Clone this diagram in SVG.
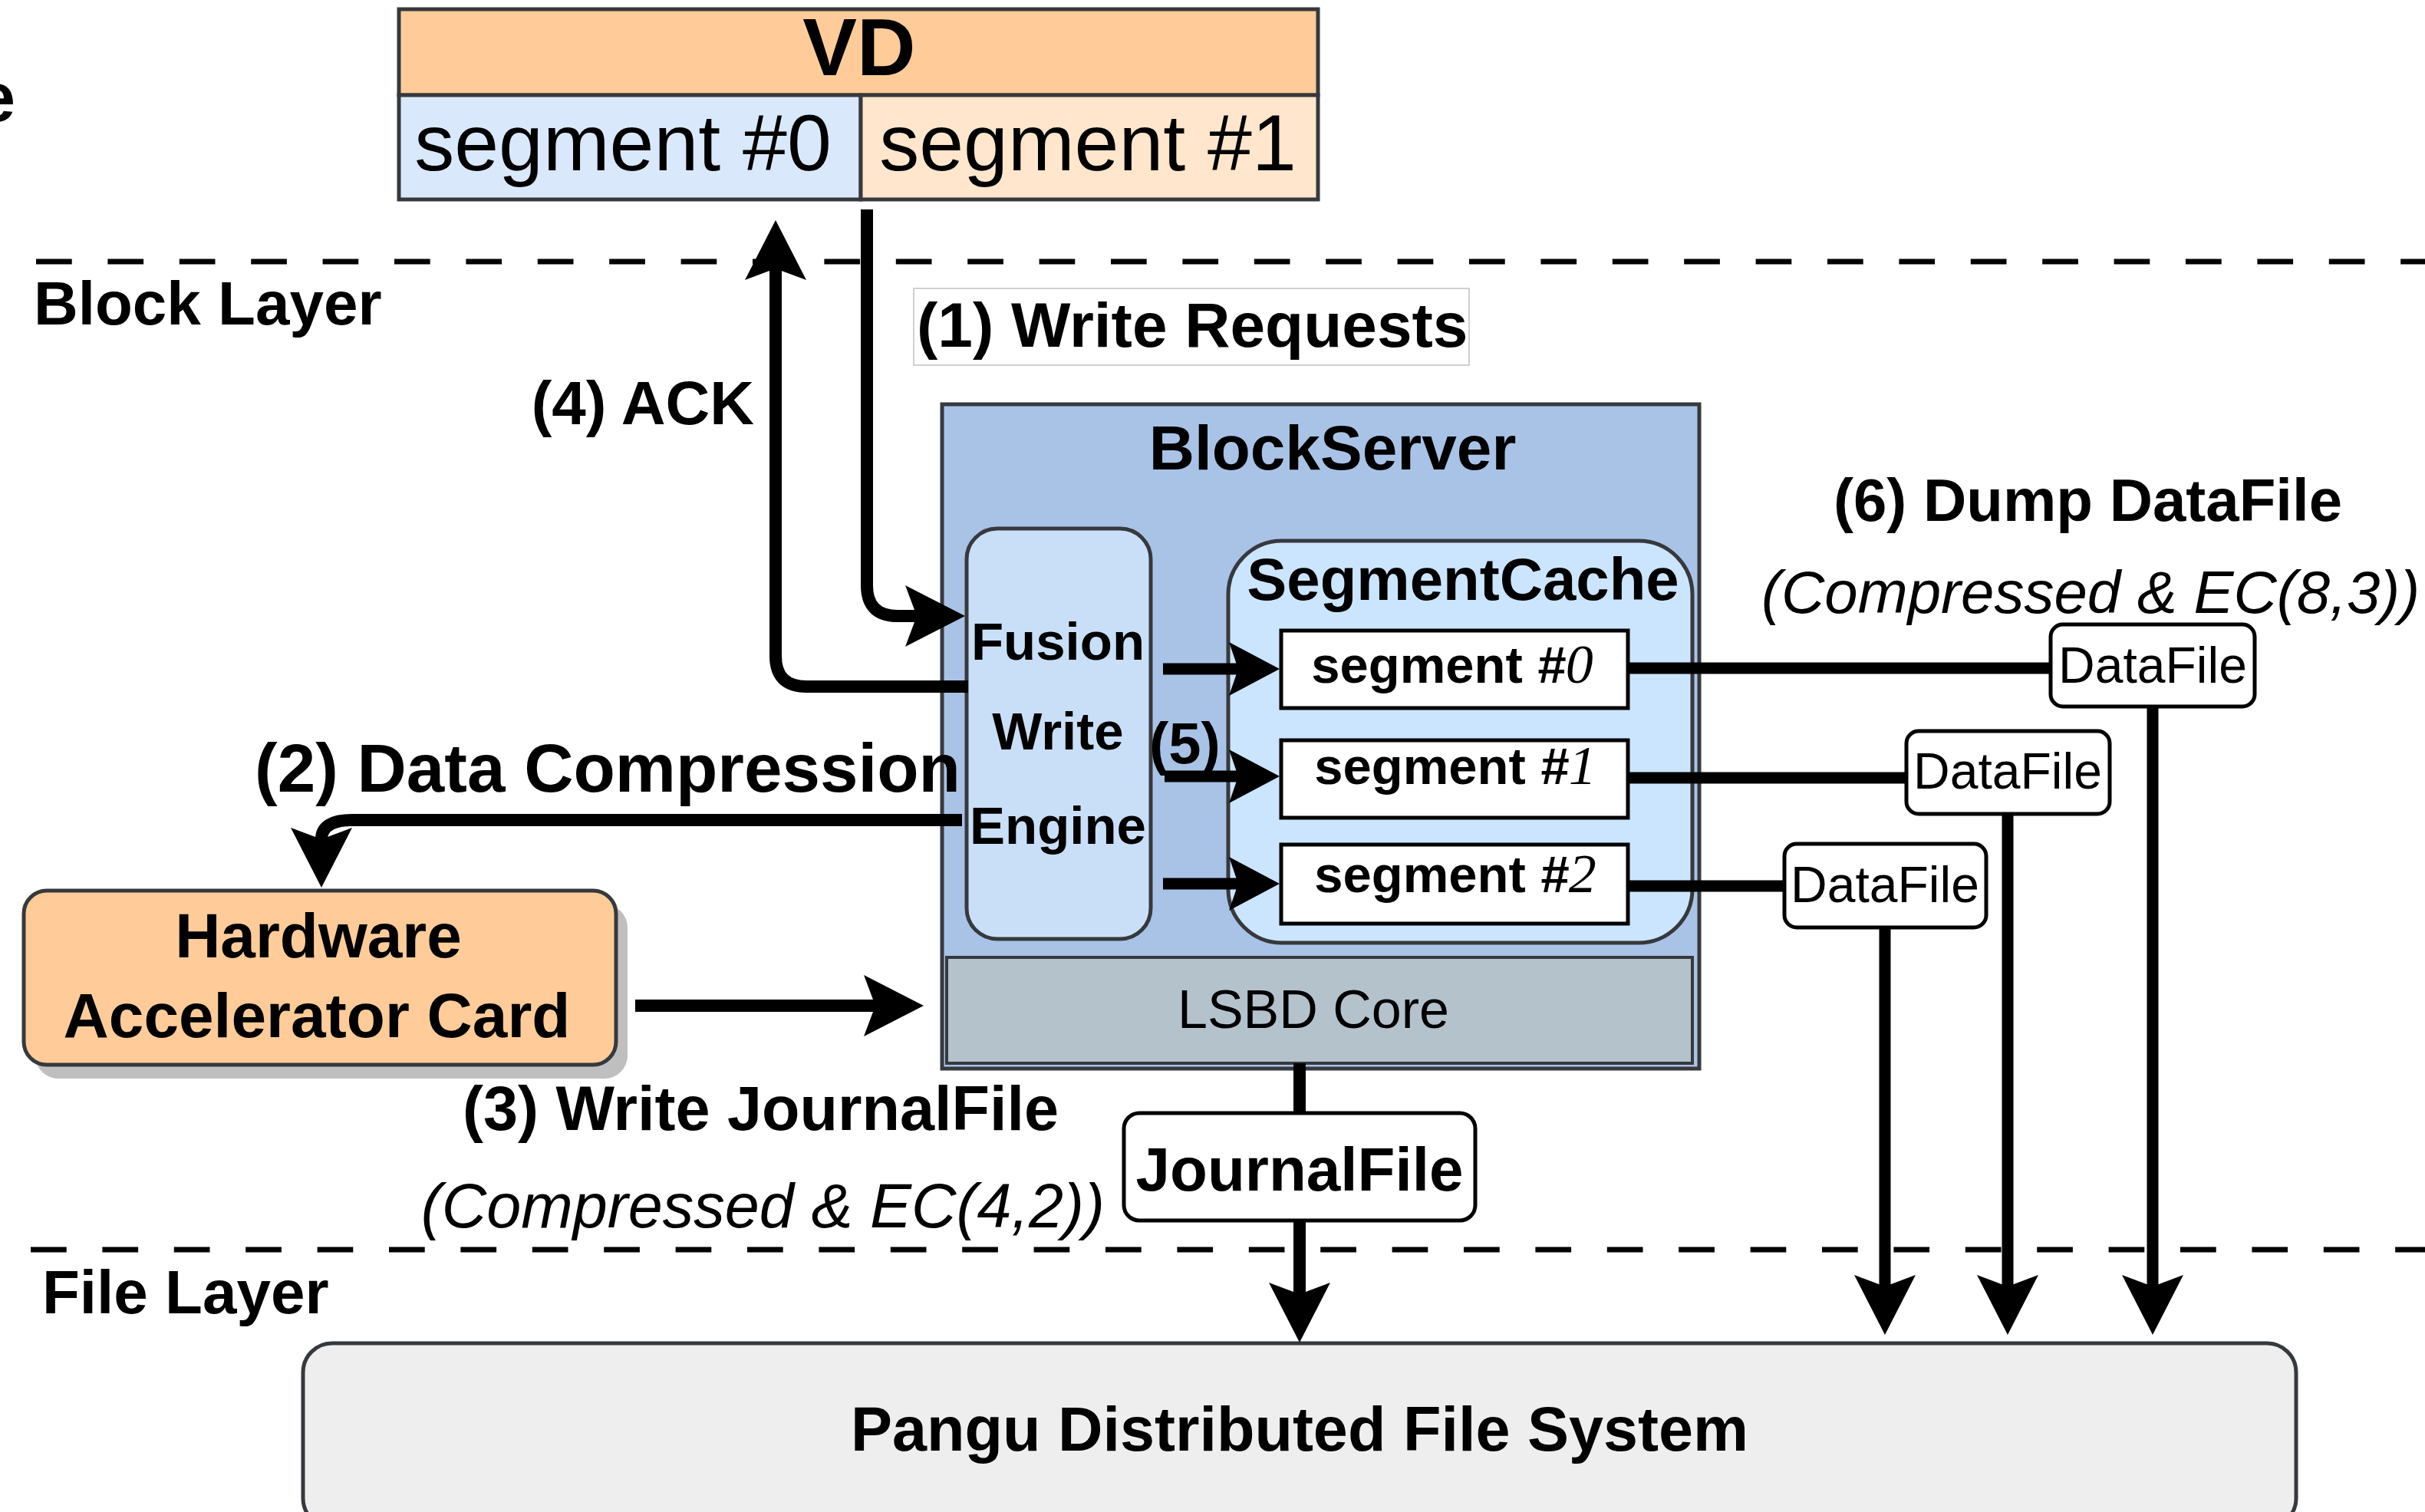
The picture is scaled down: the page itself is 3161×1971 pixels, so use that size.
<svg xmlns="http://www.w3.org/2000/svg" width="3161" height="1971" viewBox="0 0 3161 1971">
  <style>
    text { font-family: "Liberation Sans", Arial, Helvetica, sans-serif; fill: #000; }
    .b { font-weight: bold; }
    .i { font-style: italic; }
    .frame { stroke: #36393d; stroke-width: 5; }
    .box { fill: #fff; stroke: #000; stroke-width: 5; }
    .wire { fill: none; stroke: #000; stroke-width: 16; }
    .thin { fill: none; stroke: #000; stroke-width: 15; }
    .layer { fill: none; stroke: #000; stroke-width: 7; stroke-dasharray: 46.7 46.7; }
    .serif { font-family: "Liberation Serif", "Times New Roman", serif; font-style: italic; }
  </style>
  <defs>
    <!-- notched arrowheads; the path ends at the notch, tip lies ahead -->
    <marker id="head" markerUnits="userSpaceOnUse" viewBox="-16 -41 80 82" refX="0" refY="0" markerWidth="80" markerHeight="82" orient="auto">
      <path d="M63,0 L-15,-40 L0,0 L-15,40 Z" fill="#000"/>
    </marker>
    <marker id="headS" markerUnits="userSpaceOnUse" viewBox="-13 -36 68 72" refX="0" refY="0" markerWidth="68" markerHeight="72" orient="auto">
      <path d="M54,0 L-12,-35 L0,0 L-12,35 Z" fill="#000"/>
    </marker>
  </defs>

  <rect width="3161" height="1971" fill="#fff"/>

  <!-- layer separators and labels -->
  <g id="layers">
    <line class="layer" x1="47" y1="341" x2="3161" y2="341"/>
    <line class="layer" x1="40" y1="1629" x2="3161" y2="1629"/>
    <text class="b" x="20" y="158" font-size="90" text-anchor="end">e</text>
    <text class="b" x="44" y="423" font-size="80">Block Layer</text>
    <text class="b" x="55" y="1712" font-size="80">File Layer</text>
  </g>

  <!-- virtual disk -->
  <g id="vd">
    <rect x="520" y="12" width="1198" height="112" fill="#ffcc99" class="frame"/>
    <rect x="520" y="124" width="602" height="136" fill="#dae8fc" class="frame"/>
    <rect x="1122" y="124" width="596" height="136" fill="#ffe6cc" class="frame"/>
    <text class="b" x="1120" y="98" font-size="106" text-anchor="middle">VD</text>
    <text x="812" y="222" font-size="104" text-anchor="middle">segment #0</text>
    <text x="1418" y="222" font-size="104" text-anchor="middle">segment #1</text>
  </g>

  <!-- block server container -->
  <g id="blockserver">
    <rect x="1228" y="527" width="987" height="866" fill="#a9c3e6" class="frame"/>
    <text class="b" x="1737" y="612" font-size="82" text-anchor="middle">BlockServer</text>
  </g>

  <g id="lsbd-core">
    <rect x="1234" y="1248" width="972" height="138" fill="#b4c2cc" stroke="#36393d" stroke-width="4"/>
    <text x="1712" y="1340" font-size="70" text-anchor="middle" fill="#1a1a1a">LSBD Core</text>
  </g>

  <g id="fusion-engine">
    <rect x="1260" y="689" width="240" height="535" rx="40" fill="#c9dff8" class="frame"/>
    <text class="b" x="1379" y="860" font-size="69" text-anchor="middle">Fusion</text>
    <text class="b" x="1379" y="977" font-size="69" text-anchor="middle">Write</text>
    <text class="b" x="1379" y="1100" font-size="69" text-anchor="middle">Engine</text>
  </g>

  <g id="segment-cache">
    <rect x="1601" y="705" width="605" height="524" rx="70" fill="#cce5ff" class="frame"/>
    <text class="b" x="1907" y="782" font-size="78" text-anchor="middle">SegmentCache</text>
  </g>

  <g id="cache-seg0">
    <rect x="1670" y="822" width="452" height="101" class="box"/>
    <text class="b" x="1893" y="890" font-size="67" text-anchor="middle">segment <tspan class="i">#</tspan><tspan class="serif" font-weight="normal" font-size="72">0</tspan></text>
  </g>
  <g id="cache-seg1">
    <rect x="1670" y="965" width="452" height="101" class="box"/>
    <text class="b" x="1897" y="1022" font-size="67" text-anchor="middle">segment <tspan class="i">#</tspan><tspan class="serif" font-weight="normal" font-size="72">1</tspan></text>
  </g>
  <g id="cache-seg2">
    <rect x="1670" y="1101" width="452" height="103" class="box"/>
    <text class="b" x="1897" y="1163" font-size="67" text-anchor="middle">segment <tspan class="i">#</tspan><tspan class="serif" font-weight="normal" font-size="72">2</tspan></text>
  </g>

  <g id="hw-card">
    <rect x="46" y="1179" width="772" height="227" rx="30" fill="#bfbfbf"/>
    <rect x="31" y="1161" width="772" height="227" rx="30" fill="#ffcc99" class="frame"/>
    <text class="b" x="415" y="1248" font-size="82" text-anchor="middle">Hardware</text>
    <text class="b" x="413" y="1352" font-size="82" text-anchor="middle">Accelerator Card</text>
  </g>

  <g id="journalfile">
    <rect x="1465" y="1451" width="458" height="140" rx="20" class="box"/>
    <text class="b" x="1694" y="1552" font-size="80" text-anchor="middle">JournalFile</text>
  </g>

  <g id="datafile0">
    <rect x="2673" y="814" width="266" height="107" rx="16" class="box"/>
    <text x="2806" y="890" font-size="66" text-anchor="middle">DataFile</text>
  </g>
  <g id="datafile1">
    <rect x="2485" y="953" width="265" height="108" rx="16" class="box"/>
    <text x="2617" y="1028" font-size="66" text-anchor="middle">DataFile</text>
  </g>
  <g id="datafile2">
    <rect x="2326" y="1100" width="263" height="109" rx="16" class="box"/>
    <text x="2457" y="1176" font-size="66" text-anchor="middle">DataFile</text>
  </g>

  <g id="pangu">
    <rect x="395" y="1751" width="2598" height="240" rx="38" fill="#eeeeee" class="frame"/>
    <text class="b" x="1694" y="1891" font-size="81" text-anchor="middle">Pangu Distributed File System</text>
  </g>

  <!-- connectors -->
  <g id="connectors">
    <!-- (1) write requests into the engine -->
    <path class="wire" d="M1130,273 V763 Q1130,803 1170,803 H1195" marker-end="url(#head)"/>
    <!-- (4) ack back to the VD -->
    <path class="wire" d="M1262,895 H1051 Q1011,895 1011,855 V350" marker-end="url(#head)"/>
    <!-- (2) compression offload -->
    <path class="wire" d="M1254,1069 H459 Q419,1069 419,1094" marker-end="url(#head)"/>
    <!-- (3) card result into LSBD core -->
    <path class="wire" d="M828,1311 H1141" marker-end="url(#head)"/>
    <!-- (5) engine to segment cache -->
    <path class="thin" d="M1516,872 H1614" marker-end="url(#headS)"/>
    <path class="thin" d="M1518,1012 H1614" marker-end="url(#headS)"/>
    <path class="thin" d="M1516,1152 H1614" marker-end="url(#headS)"/>
    <!-- journal path -->
    <path class="wire" d="M1694,1386 V1451"/>
    <path class="wire" d="M1694,1591 V1687" marker-end="url(#head)"/>
    <!-- (6) segments dumped to data files -->
    <path class="thin" d="M2122,871 H2673"/>
    <path class="thin" d="M2122,1014 H2485"/>
    <path class="thin" d="M2122,1155 H2326"/>
    <path class="thin" d="M2806,921 V1677" marker-end="url(#head)"/>
    <path class="thin" d="M2617,1061 V1677" marker-end="url(#head)"/>
    <path class="thin" d="M2457,1209 V1677" marker-end="url(#head)"/>
  </g>

  <!-- step labels -->
  <g id="labels">
    <rect x="1191" y="376" width="724" height="100" fill="#fff" stroke="#d0d0d0" stroke-width="2"/>
    <text class="b" x="1195" y="452" font-size="82">(1) Write Requests</text>
    <text class="b" x="983" y="553" font-size="80" text-anchor="end">(4) ACK</text>
    <text class="b" x="332" y="1032" font-size="89">(2) Data Compression</text>
    <text class="b" x="603" y="1473" font-size="81">(3) Write JournalFile</text>
    <text class="i" x="1440" y="1600" font-size="81" text-anchor="end">(Compressed &amp; EC(4,2))</text>
    <text class="b" x="1498" y="995" font-size="76">(5)</text>
    <text class="b" x="2390" y="679" font-size="78">(6) Dump DataFile</text>
    <text class="i" x="2296" y="799" font-size="78">(Compressed &amp; EC(8,3))</text>
  </g>
</svg>
